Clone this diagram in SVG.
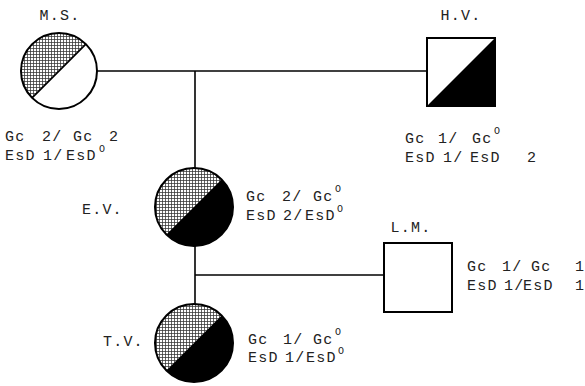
<svg xmlns="http://www.w3.org/2000/svg" width="585" height="386" viewBox="0 0 585 386">
  <defs>
    <pattern id="stip" width="3" height="3" patternUnits="userSpaceOnUse">
      <rect width="3" height="3" fill="#fff"/>
      <path d="M0 0.5H3M0.5 0V3" stroke="#333" stroke-width="0.75"/>
    </pattern>
    <style>
      .ln{stroke:#000;stroke-width:1.6;fill:none}
      .sh{stroke:#000;stroke-width:2}
      text{font-family:"Liberation Mono","DejaVu Sans Mono",monospace;font-size:15px;letter-spacing:1.2px;fill:#222}
      .lab{text-anchor:middle}
      .sup{font-size:10px;letter-spacing:0}
    </style>
  </defs>
  <rect width="585" height="386" fill="#fff"/>

  <g id="connectors">
    <line class="ln" x1="97" y1="71" x2="427" y2="71"/>
    <line class="ln" x1="195" y1="71" x2="195" y2="168"/>
    <line class="ln" x1="195" y1="245" x2="195" y2="304"/>
    <line class="ln" x1="195" y1="275" x2="384" y2="275"/>
  </g>

  <g id="MS">
    <circle cx="59" cy="71" r="38" fill="#fff"/>
    <path d="M32.1 97.9A38 38 0 0 1 85.9 44.1Z" fill="url(#stip)"/>
    <line x1="32.1" y1="97.9" x2="85.9" y2="44.1" stroke="#000" stroke-width="1.6"/>
    <circle class="sh" cx="59" cy="71" r="38" fill="none"/>
    <text class="lab" x="60" y="20">M.S.</text>
    <text y="141"><tspan x="5">Gc</tspan><tspan x="42">2/</tspan><tspan x="73">Gc</tspan><tspan x="109">2</tspan></text>
    <text y="160"><tspan x="5">EsD</tspan><tspan x="43">1/</tspan><tspan x="66">EsD</tspan></text>
    <text class="sup" x="99" y="152">O</text>
  </g>

  <g id="HV">
    <rect x="427" y="38" width="68" height="68" fill="#fff"/>
    <path d="M427 106L495 38V106Z" fill="#000"/>
    <rect class="sh" x="427" y="38" width="68" height="68" fill="none"/>
    <text class="lab" x="461" y="20">H.V.</text>
    <text y="143"><tspan x="405">Gc</tspan><tspan x="438">1/</tspan><tspan x="472">Gc</tspan></text>
    <text class="sup" x="494" y="134">O</text>
    <text y="162"><tspan x="405">EsD</tspan><tspan x="443">1/</tspan><tspan x="470">EsD</tspan><tspan x="527">2</tspan></text>
  </g>

  <g id="EV">
    <circle cx="194" cy="207" r="39" fill="#000"/>
    <path d="M166.4 234.6A39 39 0 0 1 221.6 179.4Z" fill="url(#stip)"/>
    <circle class="sh" cx="194" cy="207" r="39" fill="none"/>
    <text x="82" y="214">E.V.</text>
    <text y="201"><tspan x="246">Gc</tspan><tspan x="282">2/</tspan><tspan x="313">Gc</tspan></text>
    <text class="sup" x="335" y="192">O</text>
    <text y="220"><tspan x="246">EsD</tspan><tspan x="283">2/</tspan><tspan x="305">EsD</tspan></text>
    <text class="sup" x="337" y="212">O</text>
  </g>

  <g id="LM">
    <rect class="sh" x="384" y="243" width="68" height="69" fill="#fff"/>
    <text class="lab" x="411" y="232">L.M.</text>
    <text y="271"><tspan x="467">Gc</tspan><tspan x="502">1/</tspan><tspan x="531">Gc</tspan><tspan x="575">1</tspan></text>
    <text y="290"><tspan x="467">EsD</tspan><tspan x="504">1/</tspan><tspan x="523">EsD</tspan><tspan x="575">1</tspan></text>
  </g>

  <g id="TV">
    <circle cx="194" cy="343" r="39" fill="#000"/>
    <path d="M166.4 370.6A39 39 0 0 1 221.6 315.4Z" fill="url(#stip)"/>
    <circle class="sh" cx="194" cy="343" r="39" fill="none"/>
    <text x="103" y="346">T.V.</text>
    <text y="344"><tspan x="248">Gc</tspan><tspan x="283">1/</tspan><tspan x="313">Gc</tspan></text>
    <text class="sup" x="335" y="335">O</text>
    <text y="362"><tspan x="248">EsD</tspan><tspan x="285">1/</tspan><tspan x="306">EsD</tspan></text>
    <text class="sup" x="338" y="354">O</text>
  </g>
</svg>
